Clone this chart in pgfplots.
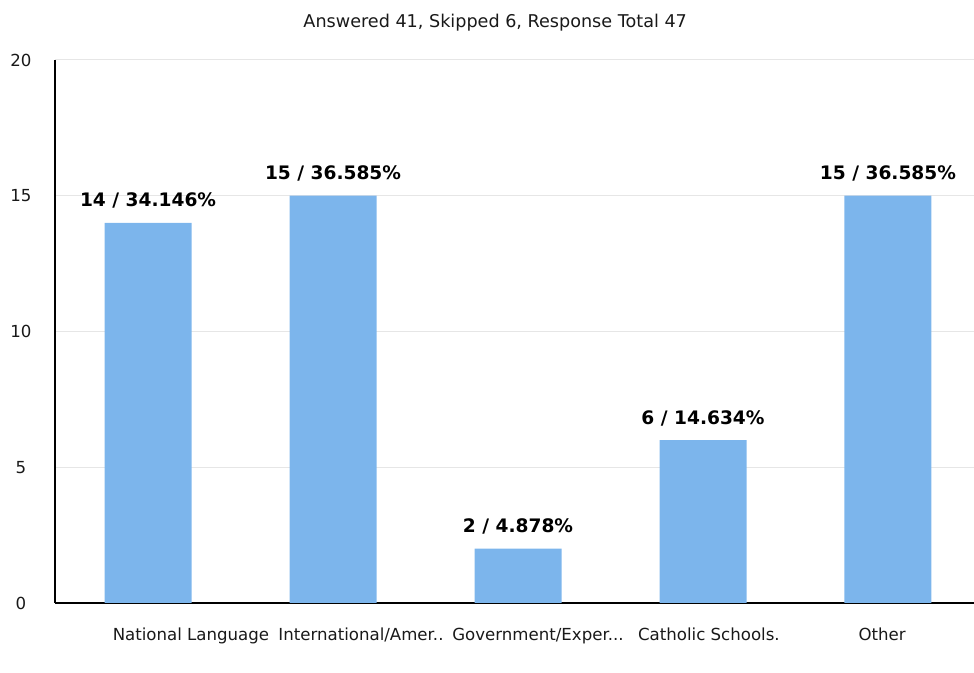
\documentclass[border=0pt]{standalone}
\usepackage{pgfplots}
\pgfplotsset{compat=1.18}
\usepackage{fontspec}
\setmainfont{DejaVu Sans}
\definecolor{barblue}{RGB}{124,181,236}
\definecolor{gridgray}{RGB}{230,230,230}
\begin{document}
\begin{tikzpicture}[x=1pt,y=1pt]
\path[use as bounding box] (-27.5,-35) rectangle (459.5,301.5);
\begin{axis}[
  at={(0,0)}, anchor=south west,
  scale only axis, width=459.5pt, height=271.5pt,
  xmin=-0.503, xmax=4.465, ymin=0, ymax=20,
  ytick={0,5,10,15,20},
  ymajorgrids, grid style={gridgray, line width=0.5pt},
  axis x line*=bottom, axis y line*=left,
  axis line style={black, line width=0.8pt},
  xtick={0.232,1.151,2.108,3.032,3.968},
  xticklabels={{National Language}, {International/Amer.{}.}, {Government/Exper.{}.{}.}, {Catholic Schools.}, {Other}},
  major tick length=0,
  /pgf/number format/assume math mode=true,
  tick label style={font=\fontsize{8.3}{10}\selectfont, text=black!90},
  xticklabel style={anchor=base, yshift=-19pt},
  yticklabel style={anchor=center, xshift=-17pt},
  title={Answered 41, Skipped 6, Response Total 47},
  title style={at={(0.479,1)}, anchor=base, yshift=10pt, font=\fontsize{8.8}{10.5}\selectfont, text=black!90},
  nodes near coords,
  point meta=explicit symbolic,
  nodes near coords style={anchor=base, yshift=8pt, font=\bfseries\fontsize{9.3}{11}\selectfont, text=black},
]
\addplot[ybar, bar width=43.5pt, fill=barblue, draw=none] coordinates {
  (0,14) [14 / 34.146\%]
  (1,15) [15 / 36.585\%]
  (2,2)  [2 / 4.878\%]
  (3,6)  [6 / 14.634\%]
  (4,15) [15 / 36.585\%]
};
\end{axis}
\end{tikzpicture}
\end{document}
